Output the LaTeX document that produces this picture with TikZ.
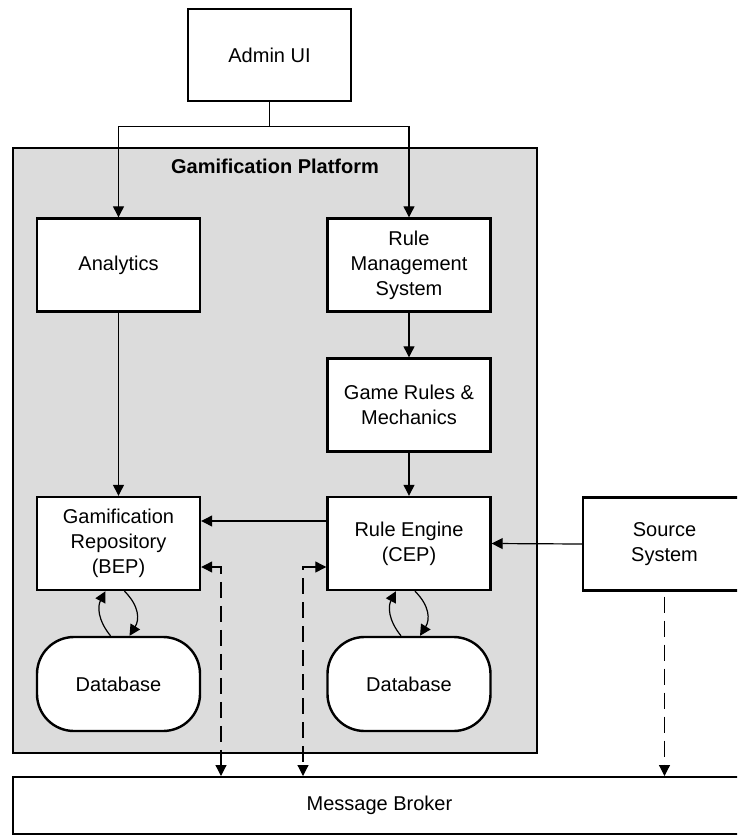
\documentclass[tikz,border=0pt]{standalone}
\usepackage{fontspec}
\setmainfont{Liberation Sans}
\usetikzlibrary{arrows.meta,calc}
\definecolor{platformgray}{HTML}{DCDCDC}
\begin{document}
\begin{tikzpicture}[x=1pt,y=-1pt,
  >={Triangle[length=11pt,width=11pt]},
  lbl/.style={font=\fontsize{20}{25}\selectfont,align=center},
  box/.style={lbl,draw,line width=2.4pt,fill=white,minimum width=163pt,minimum height=93pt,inner sep=0pt},
  dbshape/.style={box,rounded corners=37pt,minimum height=94pt},
  platform/.style={draw,line width=2.4pt,fill=platformgray,minimum width=524pt,minimum height=605pt,inner sep=0pt},
  broker/.style={lbl,draw,line width=2pt,fill=white,minimum width=733pt,minimum height=57pt,inner sep=0pt},
  arr/.style={line width=1.2pt,->},
  dasharr/.style={line width=1.2pt,dash pattern=on 16pt off 8pt}]
\useasboundingbox (0,0) rectangle (737,835);
\clip (0,0) rectangle (737,835);

% container and its title
\node[platform] (plat) at (275,450.5) {};
\node[lbl,font=\fontsize{20}{25}\selectfont\bfseries] (title) at (275,166) {Gamification Platform};

% components
\node[box,minimum height=92pt] (admin) at (269.5,55) {Admin UI};
\node[box] (analytics) at (118.5,265) {Analytics};
\node[box] (rulemgmt) at (409,265) {Rule\\Management\\System};
\node[box] (gamerules) at (409,405) {Game Rules \&\\Mechanics};
\node[box] (repo) at (118.5,543.5) {Gamification\\Repository\\(BEP)};
\node[box] (engine) at (409,543.5) {Rule Engine\\(CEP)};
\node[box] (source) at (664.5,544) {Source\\System};
\node[dbshape] (db1) at (118.5,684) {Database};
\node[dbshape] (db2) at (409,684) {Database};
\node[broker] (mb) at (379.5,805.5) {Message Broker};

% admin fan-out
\coordinate (split) at ($(admin.south)+(0,24)$);
\draw[line width=1.2pt] (admin.south) -- (split);
\draw[arr] (split) -| (analytics.north);
\draw[arr] (split) -| (rulemgmt.north);

% vertical flows
\draw[arr] (analytics.south) -- (repo.north);
\draw[arr] (rulemgmt.south) -- (gamerules.north);
\draw[arr] (gamerules.south) -- (engine.north);

% horizontal flows
\draw[arr] ($(engine.west)+(0,-22.5)$) -- ($(repo.east)+(0,-22.5)$);
\draw[arr] (source.west) -- (engine.east);

% component <-> database exchanges
\foreach \b/\d in {repo/db1,engine/db2}{
  \draw[arr] ($(\d.north)+(-8,0)$) .. controls +(-13,-16) and +(-8,15) .. ($(\b.south)+(-13,0)$);
  \draw[arr] ($(\b.south)+(6,0)$) .. controls +(15,15) and +(10,-16) .. ($(\d.north)+(11,0)$);
}

% message broker links
\draw[dasharr,<->] ($(repo.east)+(0,23.5)$) -| ($(mb.north west)+(209,0)$);
\draw[dasharr,<->] ($(engine.west)+(0,23.5)$) -| ($(mb.north west)+(291,0)$);
\draw[dasharr,->] ($(source.south)+(0,5)$) -- (source.south |- mb.north);
\end{tikzpicture}
\end{document}
